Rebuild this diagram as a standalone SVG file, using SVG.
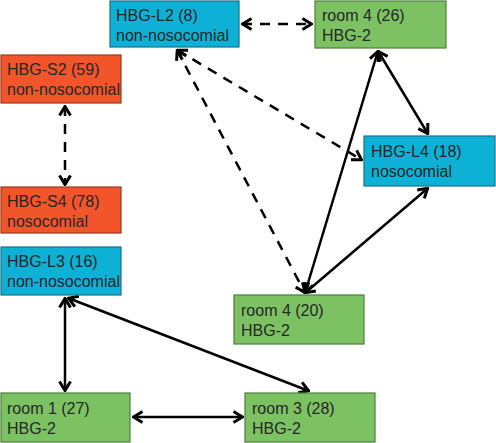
<svg xmlns="http://www.w3.org/2000/svg" width="496" height="443" viewBox="0 0 496 443">
<style>
.b{fill:#0DB1D6;stroke:#1B6F86;stroke-width:1.2}
.o{fill:#F2552A;stroke:#9A3A1C;stroke-width:1.2}
.g{fill:#7CC263;stroke:#4E7D3D;stroke-width:1.2}
text{font-family:"Liberation Sans","DejaVu Sans",sans-serif;font-size:16px;fill:#262626}
.c line{stroke:#000;stroke-width:2.5;fill:none;marker-start:url(#a);marker-end:url(#a)}
.c line.d{stroke-dasharray:10,8}
</style>
<defs>
<marker id="a" viewBox="0 0 12 14" refX="11" refY="7" markerWidth="12" markerHeight="14" markerUnits="userSpaceOnUse" orient="auto-start-reverse">
<path d="M1.5,1.5 L10.5,7 L1.5,12.5" fill="none" stroke="#000" stroke-width="3"/>
</marker>
</defs>
<rect width="496" height="443" fill="#fff"/>
<g class="c">
<line class="d" x1="242" y1="24" x2="312" y2="24"/>
<line class="d" x1="65" y1="106" x2="65" y2="185"/>
<line class="d" x1="177" y1="50" x2="362" y2="160"/>
<line class="d" x1="177" y1="50" x2="305" y2="293"/>
<line x1="378" y1="51" x2="428" y2="134"/>
<line x1="378" y1="51" x2="305" y2="293"/>
<line x1="428" y1="188" x2="305" y2="293"/>
<line x1="65" y1="298" x2="65" y2="391"/>
<line x1="68" y1="298" x2="309" y2="391"/>
<line x1="133" y1="417" x2="243" y2="417"/>
</g>
<g id="hbg-l2"><rect class="b" x="110" y="1" width="129" height="46"/><text x="116" y="21">HBG-L2 (8)</text><text x="116" y="41">non-nosocomial</text></g>
<g id="room4-26"><rect class="g" x="315" y="1" width="131" height="47"/><text x="322" y="21">room 4 (26)</text><text x="322" y="41">HBG-2</text></g>
<g id="hbg-s2"><rect class="o" x="1" y="55" width="120" height="48"/><text x="7" y="75">HBG-S2 (59)</text><text x="7" y="95">non-nosocomial</text></g>
<g id="hbg-s4"><rect class="o" x="1" y="187" width="120" height="46"/><text x="7" y="207">HBG-S4 (78)</text><text x="7" y="227">nosocomial</text></g>
<g id="hbg-l4"><rect class="b" x="364" y="136" width="131" height="50"/><text x="371" y="157">HBG-L4 (18)</text><text x="371" y="177">nosocomial</text></g>
<g id="hbg-l3"><rect class="b" x="1" y="247" width="120" height="48"/><text x="7" y="267">HBG-L3 (16)</text><text x="7" y="287">non-nosocomial</text></g>
<g id="room4-20"><rect class="g" x="234" y="295" width="130" height="49"/><text x="241" y="316">room 4 (20)</text><text x="241" y="336">HBG-2</text></g>
<g id="room1"><rect class="g" x="1" y="393" width="129" height="49"/><text x="7" y="414">room 1 (27)</text><text x="7" y="434">HBG-2</text></g>
<g id="room3"><rect class="g" x="245" y="393" width="130" height="49"/><text x="252" y="414">room 3 (28)</text><text x="252" y="434">HBG-2</text></g>
</svg>
